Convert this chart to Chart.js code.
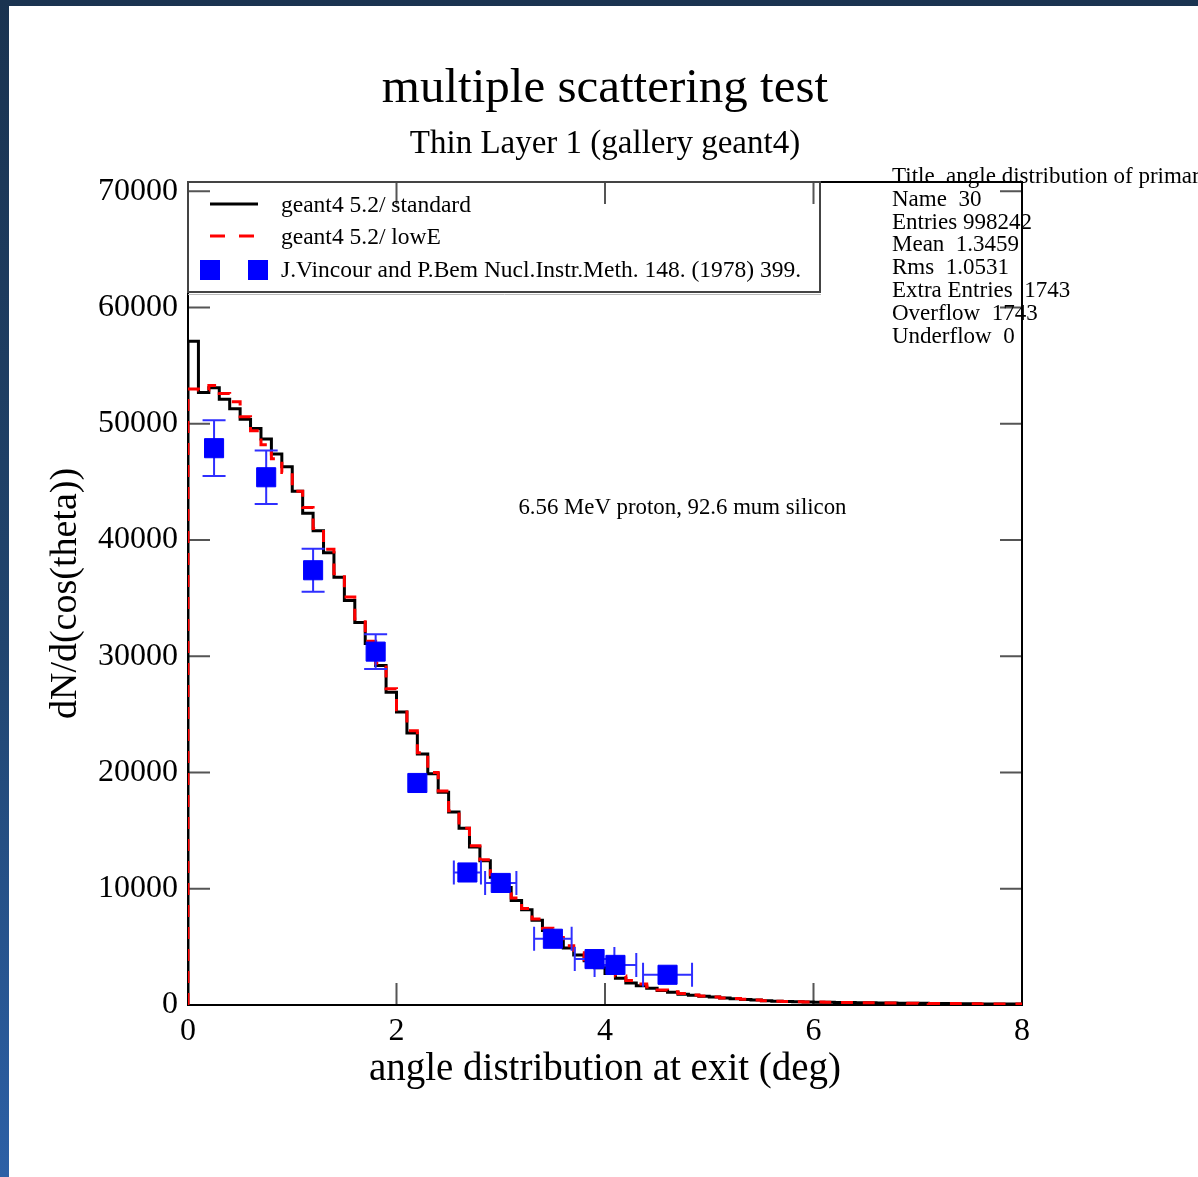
<!DOCTYPE html>
<html>
<head>
<meta charset="utf-8">
<script src="https://cdn.jsdelivr.net/npm/chart.js@4.4.1/dist/chart.umd.min.js"></script>
<style>
  html, body { margin: 0; padding: 0; }
  body {
    width: 1198px; height: 1177px; overflow: hidden; position: relative;
    background: linear-gradient(to bottom, #1a3350 0%, #21456f 55%, #2c60a6 100%);
  }
  #panel { position: absolute; left: 9px; top: 6px; right: 0; bottom: 0; background: #fff; }
  #wrap { position: absolute; left: 0; top: 0; width: 1198px; height: 1177px; }
</style>
</head>
<body>
<div id="panel"></div>
<div id="wrap"><canvas id="chart" width="1198" height="1177"></canvas></div>
<script>
// histogram: 80 bins of 0.1 deg from 0 to 8 deg
var binWidth = 0.1;
var standard = [
  57100, 52700, 53100, 52100, 51300, 50400, 49600, 48700, 47400, 46300,
  44200, 42300, 40800, 38900, 36800, 34800, 32900, 31100, 29200, 26900,
  25200, 23400, 21600, 19900, 18300, 16600, 15200, 13600, 12400, 11000,
  10100, 9000, 8200, 7300, 6400, 5700, 4900, 4300, 3800, 3200,
  2700, 2300, 1900, 1650, 1450, 1250, 1100, 920, 830, 750,
  680, 600, 540, 480, 430, 360, 320, 300, 280, 260,
  245, 230, 215, 205, 195, 185, 175, 165, 160, 150,
  140, 130, 125, 115, 110, 100, 95, 90, 85, 80
];
var lowE = [
  53000, 52900, 53300, 52600, 51900, 50600, 49400, 48200, 47000, 45800,
  44200, 42800, 41000, 39200, 37100, 35100, 33200, 31300, 29400, 27200,
  25400, 23600, 21700, 20000, 18400, 16700, 15200, 13700, 12500, 11200,
  10100, 9200, 8300, 7400, 6600, 5800, 5100, 4500, 3900, 3300,
  2900, 2500, 2100, 1800, 1550, 1300, 1150, 980, 860, 770,
  690, 610, 550, 490, 440, 370, 330, 305, 285, 265,
  250, 235, 220, 205, 195, 185, 175, 170, 160, 150,
  145, 135, 125, 120, 110, 105, 95, 90, 85, 80
];

// J.Vincour and P.Bem measurement
var dataAngle    = [0.25, 0.75, 1.20, 1.80, 2.20, 2.68, 3.00, 3.50, 3.90, 4.10, 4.60];
var dataValue    = [47900, 45400, 37400, 30400, 19100, 11400, 10500, 5700, 3950, 3450, 2600];
var dataErrValue = [2400, 2300, 1850, 1500, 0, 0, 0, 0, 0, 0, 0];
var dataErrAngle = [0, 0, 0, 0, 0, 0.13, 0.15, 0.18, 0.19, 0.2, 0.235];

var xTicks = [0, 2, 4, 6, 8];
var yTicks = [0, 10000, 20000, 30000, 40000, 50000, 60000, 70000];

var statsLines = [
  'Title  angle distribution of primary particles',
  'Name  30',
  'Entries 998242',
  'Mean  1.3459',
  'Rms  1.0531',
  'Extra Entries  1743',
  'Overflow  1743',
  'Underflow  0'
];
var noteText = '6.56 MeV proton, 92.6 mum silicon';

var SERIF = "'Liberation Serif', 'DejaVu Serif', serif";

function histo(values)
{
    var pts = [{x: 0, y: 0}];
    values.forEach(function (v, i) { pts.push({x: i * binWidth, y: v}); });
    pts.push({x: values.length * binWidth, y: values[values.length - 1]});
    return pts;
}

var measured = dataAngle.map(function (a, i) { return {x: a, y: dataValue[i]}; });

// frame, inner ticks, error bars, legend box, stats and note text
var decorPlugin = {
    id: 'decor',
    beforeDatasetsDraw: function (chart) {
        var ctx = chart.ctx, a = chart.chartArea, xs = chart.scales.x, ys = chart.scales.y;
        ctx.save();
        // ticks pointing inward on all four sides
        ctx.strokeStyle = '#555';
        ctx.lineWidth = 2;
        ctx.beginPath();
        yTicks.forEach(function (v) {
            var py = ys.getPixelForValue(v);
            ctx.moveTo(a.left, py); ctx.lineTo(a.left + 22, py);
            ctx.moveTo(a.right - 22, py); ctx.lineTo(a.right, py);
        });
        xTicks.forEach(function (v) {
            var px = xs.getPixelForValue(v);
            ctx.moveTo(px, a.bottom); ctx.lineTo(px, a.bottom - 22);
            ctx.moveTo(px, a.top); ctx.lineTo(px, a.top + 22);
        });
        ctx.stroke();

        // frame
        ctx.strokeStyle = '#000';
        ctx.lineWidth = 2;
        ctx.strokeRect(a.left, a.top, a.right - a.left, a.bottom - a.top);
        ctx.restore();
    },
    beforeDatasetDraw: function (chart, args) {
        if (args.index !== 2) return;
        var ctx = chart.ctx, xs = chart.scales.x, ys = chart.scales.y;
        ctx.save();
        ctx.strokeStyle = '#2f2fff';
        ctx.lineWidth = 2;
        ctx.beginPath();
        dataAngle.forEach(function (a, i) {
            var px = xs.getPixelForValue(a), py = ys.getPixelForValue(dataValue[i]);
            if (dataErrValue[i] > 0) {
                var t = ys.getPixelForValue(dataValue[i] + dataErrValue[i]);
                var b = ys.getPixelForValue(dataValue[i] - dataErrValue[i]);
                ctx.moveTo(px, t); ctx.lineTo(px, b);
                ctx.moveTo(px - 11.5, t); ctx.lineTo(px + 11.5, t);
                ctx.moveTo(px - 11.5, b); ctx.lineTo(px + 11.5, b);
            }
            if (dataErrAngle[i] > 0) {
                var l = xs.getPixelForValue(a - dataErrAngle[i]);
                var r = xs.getPixelForValue(a + dataErrAngle[i]);
                ctx.moveTo(l, py); ctx.lineTo(r, py);
                ctx.moveTo(l, py - 12); ctx.lineTo(l, py + 12);
                ctx.moveTo(r, py - 12); ctx.lineTo(r, py + 12);
            }
        });
        ctx.stroke();
        ctx.restore();
    },
    afterDraw: function (chart) {
        var ctx = chart.ctx, a = chart.chartArea, xs = chart.scales.x, ys = chart.scales.y;
        ctx.save();

        // legend box
        ctx.strokeStyle = '#444';
        ctx.lineWidth = 2;
        ctx.strokeRect(a.left, a.top, 632, 110);
        ctx.strokeStyle = '#bbb';
        ctx.lineWidth = 1;
        ctx.beginPath();
        ctx.moveTo(a.left, a.top + 112.5); ctx.lineTo(a.left + 633, a.top + 112.5);
        ctx.stroke();

        var sets = chart.data.datasets;
        var lx = a.left + 22, tx = a.left + 93;
        ctx.font = '23.5px ' + SERIF;
        ctx.fillStyle = '#000';
        ctx.textBaseline = 'middle';
        ctx.textAlign = 'left';
        // standard
        ctx.strokeStyle = sets[0].borderColor; ctx.lineWidth = 3;
        ctx.beginPath(); ctx.moveTo(lx, a.top + 22); ctx.lineTo(lx + 48, a.top + 22); ctx.stroke();
        ctx.fillText(sets[0].label, tx, a.top + 24);
        // lowE
        ctx.strokeStyle = sets[1].borderColor;
        ctx.setLineDash([15, 14]);
        ctx.beginPath(); ctx.moveTo(lx, a.top + 54); ctx.lineTo(lx + 46, a.top + 54); ctx.stroke();
        ctx.setLineDash([]);
        ctx.fillText(sets[1].label, tx, a.top + 56);
        // data
        ctx.fillStyle = sets[2].backgroundColor;
        ctx.fillRect(a.left + 12, a.top + 78, 20, 20);
        ctx.fillRect(a.left + 60, a.top + 78, 20, 20);
        ctx.fillStyle = '#000';
        ctx.fillText(sets[2].label, tx, a.top + 89);

        // note inside plot
        ctx.font = '22.8px ' + SERIF;
        ctx.fillText(noteText, xs.getPixelForValue(3.17), ys.getPixelForValue(42750));

        // statistics block
        ctx.font = '23px ' + SERIF;
        statsLines.forEach(function (s, i) {
            ctx.fillText(s, 892, 177 + i * 22.8);
        });
        ctx.restore();
    }
};

var canvas = document.getElementById('chart');
var chart = new Chart(canvas, {
    type: 'line',
    data: {
        datasets: [{
            label: 'geant4 5.2/ standard',
            data: histo(standard),
            stepped: 'before',
            borderColor: '#000000',
            borderWidth: 3,
            pointRadius: 0,
            fill: false,
            order: 2
        }, {
            label: 'geant4 5.2/ lowE',
            data: histo(lowE),
            stepped: 'before',
            borderColor: '#ff0000',
            borderWidth: 3,
            borderDash: [12, 10],
            pointRadius: 0,
            fill: false,
            order: 1
        }, {
            label: 'J.Vincour and P.Bem Nucl.Instr.Meth. 148. (1978) 399.',
            data: measured,
            showLine: false,
            pointStyle: 'rect',
            pointRadius: 13.5,
            borderWidth: 1,
            backgroundColor: '#0000ff',
            borderColor: '#0000ff',
            order: 0
        }]
    },
    options: {
        responsive: false,
        animation: false,
        events: [],
        layout: {padding: {left: 0, right: 176, top: 0, bottom: 0}},
        plugins: {
            legend: {display: false},
            tooltip: {enabled: false},
            title: {
                display: true,
                fullSize: false,
                text: 'multiple scattering test',
                color: '#000',
                font: {family: SERIF, size: 49, weight: 'normal', lineHeight: 1},
                padding: {top: 65, bottom: 0}
            },
            subtitle: {
                display: true,
                fullSize: false,
                text: 'Thin Layer 1 (gallery geant4)',
                color: '#000',
                font: {family: SERIF, size: 33, weight: 'normal', lineHeight: 1},
                padding: {top: 14, bottom: 21}
            }
        },
        scales: {
            x: {
                type: 'linear',
                min: 0,
                max: 8,
                afterBuildTicks: function (s) { s.ticks = xTicks.map(function (v) { return {value: v}; }); },
                afterFit: function (s) { s.height = 172; },
                grid: {display: false, drawTicks: false},
                border: {display: false},
                ticks: {color: '#000', padding: 11, maxRotation: 0, autoSkip: false,
                        callback: function (v) { return String(v); },
                        font: {family: SERIF, size: 32, lineHeight: 1}},
                title: {display: true, text: 'angle distribution at exit (deg)', color: '#000',
                        font: {family: SERIF, size: 39, lineHeight: 1}, padding: {top: 0, bottom: 88}}
            },
            y: {
                type: 'linear',
                min: 0,
                max: 70800,
                afterBuildTicks: function (s) { s.ticks = yTicks.map(function (v) { return {value: v}; }); },
                afterFit: function (s) { s.width = 188; },
                grid: {display: false, drawTicks: false},
                border: {display: false},
                ticks: {color: '#000', padding: 10, autoSkip: false,
                        callback: function (v) { return String(v); },
                        font: {family: SERIF, size: 32, lineHeight: 1}},
                title: {display: true, text: 'dN/d(cos(theta))', color: '#000',
                        font: {family: SERIF, size: 38, lineHeight: 1}, padding: {top: 47, bottom: 0}}
            }
        }
    },
    plugins: [decorPlugin]
});
</script>
</body>
</html>
